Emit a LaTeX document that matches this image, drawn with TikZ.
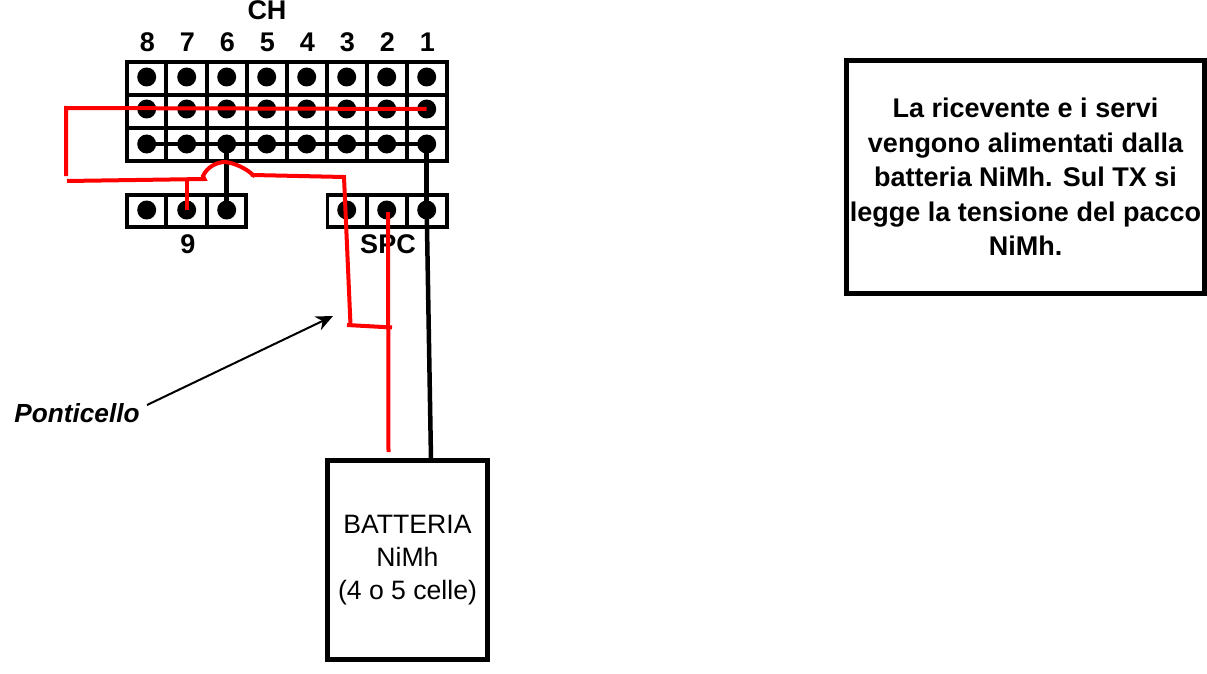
\documentclass[tikz,border=0pt]{standalone}
\usepackage{fontspec}
\setmainfont{Liberation Sans}
\usetikzlibrary{arrows.meta}
\tikzset{
  pin/.style={circle,fill=black,inner sep=0pt,minimum size=19pt},
  grid/.style={draw=black,line width=3.8pt,line cap=rect},
  boxx/.style={draw=black,line width=5.5pt,inner sep=0pt},
  redw/.style={draw=red,line width=4pt},
  blkw/.style={draw=black,line width=4.5pt},
  lab/.style={font=\fontsize{27}{34.5}\selectfont\bfseries,inner sep=0pt},
  hdr/.style={lab,anchor=base},
  txt/.style={font=\fontsize{26.6}{33}\selectfont,inner sep=0pt}
}
\begin{document}
\begin{tikzpicture}[x=1pt,y=-1pt]
\useasboundingbox (0,0) rectangle (1207,674);
\draw[grid] (127,62) rectangle (447,161);
\draw[grid] (127,95) -- (447,95);
\draw[grid] (127,128) -- (447,128);
\foreach \x in {166,206.7,246.7,286.7,326.7,366.7,406.7,446.7}
  \draw[grid,line cap=butt] (\x,61) -- (\x,161);
\draw[grid] (127,195) rectangle (246,227);
\draw[grid,line cap=butt] (166,194) -- (166,227);
\draw[grid,line cap=butt] (206.7,194) -- (206.7,227);
\draw[grid] (327.5,195) rectangle (447,227);
\draw[grid,line cap=butt] (366.7,194) -- (366.7,227);
\draw[grid,line cap=butt] (406.7,194) -- (406.7,227);
\foreach \n/\x in {8/147.5,7/187.5,6/227.5,5/267.5,4/307.5,3/347.5,2/387.5,1/427.5}{
  \node[hdr] (n\n) at (\x,51.5) {\n};
}
\foreach \n/\x in {8/146.7,7/186.7,6/226.7,5/266.7,4/306.7,3/346.7,2/386.7,1/426.7}{
  \node[pin] (a\n) at (\x,77) {};
  \node[pin] (b\n) at (\x,109) {};
  \node[pin] (c\n) at (\x,144) {};
}
\node[hdr] (ch) at (267,20) {CH};
\node[pin] (g1) at (146.7,210) {};
\node[pin] (g2) at (186.7,210) {};
\node[pin] (g3) at (226.7,210) {};
\node[pin] (s1) at (346.7,210) {};
\node[pin] (s2) at (386.7,210) {};
\node[pin] (s3) at (426.7,210) {};
\node[hdr] (nine) at (188,253) {9};
\node[hdr] (spc) at (388,253) {SPC};
\node[boxx,minimum width=160pt,minimum height=199pt,align=center] (bat) at (407.5,560) {};
\node[txt,align=center] (battxt) at (407.5,560.5) {BATTERIA\\NiMh\\(4 o 5 celle)};
\node[boxx,minimum width=358pt,minimum height=233pt] (info) at (1025.5,177) {};
\node[lab,align=center] (infotxt) at (1025.5,177) {La ricevente e i servi\\vengono alimentati dalla\\batteria NiMh. Sul TX si\\legge la tensione del pacco\\NiMh.};
\node[font=\fontsize{26.2}{32}\selectfont\bfseries\itshape,inner sep=0pt] (pont) at (77,413) {Ponticello};
\draw[blkw] (c8.center) -- (c1.center);
\draw[blkw] (c6.center) -- (g3.center);
\draw[blkw] (c1.center) -- (s3.center);
\coordinate (batb) at (431,460);
\draw[blkw] (s3.center) -- (batb);
\coordinate (r1) at (66,108);
\coordinate (r2) at (66,176);
\draw[redw] (b1.center) -- (r1) -- (r2);
\coordinate (j0) at (67,181);
\coordinate (j1) at (204.5,179);
\coordinate (j2) at (253,175);
\coordinate (j3) at (344,177);
\coordinate (j4) at (350.5,325);
\coordinate (j5) at (347,325);
\coordinate (j6) at (392,327.5);
\coordinate (j7) at (186.7,179.5);
\coordinate (batr) at (388.5,452);
\draw[redw] (j0) -- (j1) -- (203,176) .. controls (207,167) and (217,162) .. (225,162) .. controls (235,163) and (247,169) .. (j2) -- (252,177) -- (253,175) -- (j3) -- (j4);
\draw[redw] (j5) -- (j6);
\draw[redw] (j7) -- (g2.center);
\draw[redw] (388,212) -- (batr);
\coordinate (tip) at (333,316);
\draw[line width=2pt,-{Stealth[length=17pt,width=15pt]}] (147,405) -- (tip);
\end{tikzpicture}
\end{document}
